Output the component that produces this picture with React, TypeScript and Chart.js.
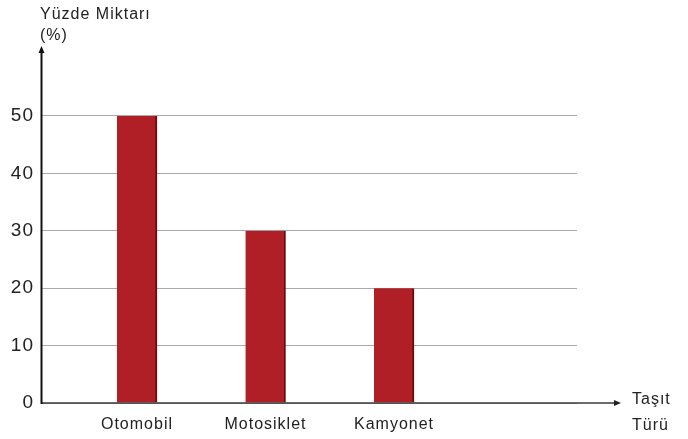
import React, { useEffect, useRef } from "react";
import { Chart, registerables } from "chart.js";

Chart.register(...registerables);

const categories = ["Otomobil", "Motosiklet", "Kamyonet"];
const values = [50, 30, 20];
const yTicks = [0, 10, 20, 30, 40, 50];
const yTitle = ["Yüzde Miktarı", "(%)"];
const xTitle = ["Taşıt", "Türü"];

const FONT = "'Liberation Sans', Arial, sans-serif";

const axesPlugin = {
  id: "axesArrows",
  beforeDraw(chart: any) {
    chart.ctx.letterSpacing = "1px";
  },
  afterDraw(chart: any) {
    const ctx = chart.ctx;
    const area = chart.chartArea;
    const yScale = chart.scales.y;
    const y0 = yScale.getPixelForValue(0);
    const xLeft = area.left + 0.5;
    ctx.save();
    // x axis
    ctx.strokeStyle = "#3a3a3a";
    ctx.lineWidth = 1.5;
    ctx.beginPath();
    ctx.moveTo(xLeft, y0);
    ctx.lineTo(616, y0);
    ctx.stroke();
    ctx.fillStyle = "#222";
    ctx.beginPath();
    ctx.moveTo(621, y0);
    ctx.lineTo(614, y0 - 3);
    ctx.lineTo(614, y0 + 3);
    ctx.closePath();
    ctx.fill();
    // y axis
    ctx.strokeStyle = "#111";
    ctx.lineWidth = 2;
    ctx.beginPath();
    ctx.moveTo(xLeft, y0 + 1);
    ctx.lineTo(xLeft, 52);
    ctx.stroke();
    ctx.fillStyle = "#111";
    ctx.beginPath();
    ctx.moveTo(xLeft, 46);
    ctx.lineTo(xLeft - 3, 53);
    ctx.lineTo(xLeft + 3, 53);
    ctx.closePath();
    ctx.fill();
    // titles
    ctx.letterSpacing = "1px";
    ctx.fillStyle = "#222";
    ctx.font = `16px ${FONT}`;
    ctx.textAlign = "left";
    ctx.textBaseline = "alphabetic";
    ctx.fillText(yTitle[0], 40, 19);
    ctx.fillText(yTitle[1], 40, 40);
    ctx.fillText(xTitle[0], 632, 404);
    ctx.fillText(xTitle[1], 632, 430);
    ctx.restore();
  },
};

export default function App() {
  const ref = useRef<HTMLCanvasElement>(null);
  useEffect(() => {
    if (!ref.current) return;
    const chart = new Chart(ref.current, {
      type: "bar",
      data: {
        datasets: [
          {
            data: values.map((v, i) => ({ x: i, y: v })),
            backgroundColor: "#b01f25",
            borderColor: "#6a0b0d",
            borderWidth: { top: 0, left: 0, bottom: 0, right: 2 },
            borderSkipped: false,
            barThickness: 40,
          },
        ],
      },
      options: {
        animation: false,
        responsive: true,
        maintainAspectRatio: false,
        layout: { padding: { top: 58.6, right: 111, bottom: 0, left: 0 } },
        plugins: { legend: { display: false }, tooltip: { enabled: false } },
        scales: {
          x: {
            type: "linear",
            min: -0.747,
            max: 3.424,
            offset: false,
            bounds: "data",
            grid: { display: false, drawTicks: false, offset: false },
            border: { display: false },
            afterBuildTicks: (scale: any) => {
              scale.ticks = categories.map((_, i) => ({ value: i }));
            },
            afterFit: (scale: any) => {
              scale.height = 36;
            },
            ticks: {
              autoSkip: false,
              maxRotation: 0,
              padding: 12,
              color: "#222",
              font: { family: FONT, size: 16 },
              callback: (v: any) => categories[v] ?? "",
            },
          },
          y: {
            min: 0,
            max: 60,
            grid: { color: "#a9a9a9", lineWidth: 1, drawTicks: false },
            border: { display: false },
            afterBuildTicks: (scale: any) => {
              scale.ticks = yTicks.map((v) => ({ value: v }));
            },
            afterFit: (scale: any) => {
              scale.width = 41;
            },
            ticks: {
              padding: 7,
              color: "#222",
              font: { family: FONT, size: 19 },
            },
          },
        },
      },
      plugins: [axesPlugin],
    });
    return () => chart.destroy();
  }, []);
  return (
    <div style={{ position: "fixed", left: 0, top: 0, width: 688, height: 439, background: "#fff" }}>
      <canvas ref={ref} />
    </div>
  );
}
